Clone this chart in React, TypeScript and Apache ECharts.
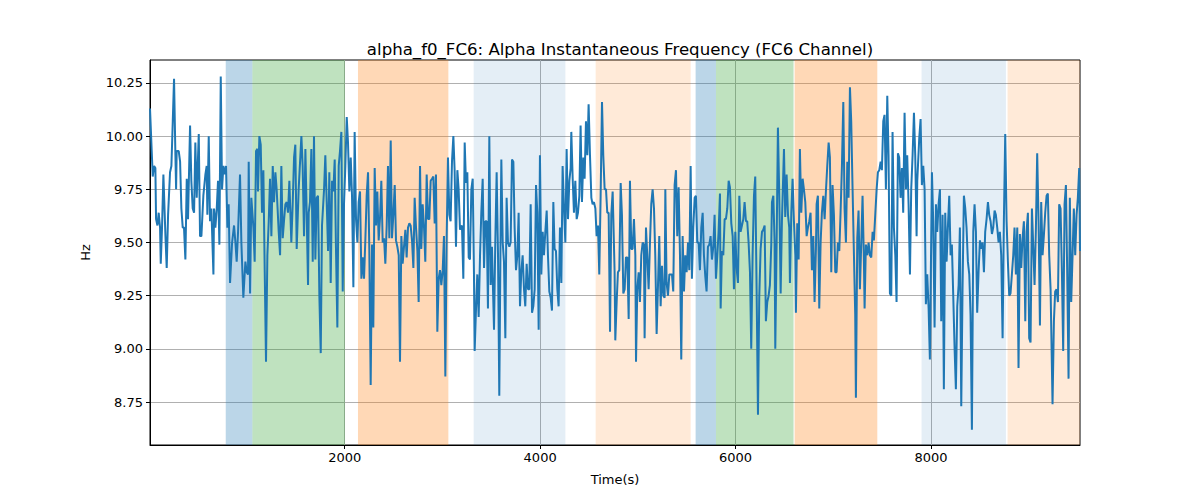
import { useEffect, useRef } from "react";
import * as echarts from "echarts";

// alpha instantaneous frequency, [time (s), Hz]
const alphaSeries: [number, number][] = [
    [8, 10.13], [36, 9.81], [50, 9.86], [63, 9.85], [70, 9.61], [84, 9.58], [97, 9.64], [111, 9.57],
    [118, 9.4], [131, 9.57], [145, 9.82], [166, 9.53], [179, 9.38], [193, 9.63], [213, 9.83], [227, 9.86],
    [241, 10.07], [254, 10.27], [268, 9.91], [275, 9.75], [281, 9.93], [302, 9.93], [316, 9.88], [329, 9.66],
    [343, 9.57], [356, 9.57], [370, 9.42], [384, 9.8], [397, 9.61], [418, 10.05], [431, 9.79], [445, 9.66],
    [459, 9.64], [472, 9.97], [486, 9.71], [507, 10.01], [520, 9.53], [534, 9.53], [554, 9.72], [575, 9.82],
    [588, 9.86], [595, 9.63], [609, 10.0], [622, 9.6], [636, 9.66], [657, 9.35], [663, 9.66], [677, 9.57],
    [691, 9.66], [704, 9.79], [718, 9.49], [732, 10.28], [745, 9.75], [759, 9.86], [772, 9.82], [786, 9.86],
    [800, 9.57], [813, 9.68], [827, 9.31], [848, 9.5], [868, 9.58], [882, 9.5], [895, 9.41], [909, 9.55],
    [929, 9.82], [943, 9.5], [963, 9.24], [984, 9.41], [998, 9.36], [1011, 9.35], [1018, 9.88], [1032, 9.26],
    [1045, 9.71], [1066, 9.57], [1079, 9.41], [1093, 9.93], [1107, 9.94], [1113, 9.74], [1127, 10.0], [1141, 9.96],
    [1154, 9.64], [1168, 9.84], [1182, 9.36], [1195, 8.94], [1209, 9.44], [1223, 9.6], [1236, 9.8], [1250, 9.53],
    [1264, 9.86], [1277, 9.69], [1291, 9.83], [1304, 9.75], [1325, 9.55], [1339, 9.44], [1352, 9.86], [1366, 9.52],
    [1379, 9.6], [1393, 9.68], [1407, 9.69], [1420, 9.64], [1434, 9.79], [1454, 9.5], [1468, 9.68], [1482, 9.9],
    [1495, 9.96], [1509, 9.47], [1529, 9.75], [1557, 10.0], [1570, 9.86], [1584, 9.53], [1598, 9.94], [1611, 9.64],
    [1625, 9.3], [1632, 9.64], [1645, 9.69], [1659, 9.94], [1673, 9.41], [1686, 10.0], [1700, 9.42], [1714, 9.71],
    [1727, 9.72], [1741, 9.25], [1755, 8.98], [1768, 9.58], [1789, 9.75], [1802, 9.91], [1816, 9.69], [1830, 9.46],
    [1843, 9.83], [1857, 9.31], [1871, 9.79], [1884, 9.74], [1898, 9.89], [1911, 9.47], [1925, 9.1], [1939, 9.86],
    [1952, 9.93], [1966, 10.02], [1980, 9.27], [1993, 9.68], [2007, 9.86], [2021, 10.09], [2034, 9.97], [2048, 9.74],
    [2062, 9.9], [2075, 9.72], [2089, 9.29], [2102, 10.02], [2116, 9.61], [2130, 9.5], [2143, 9.69], [2157, 9.74],
    [2171, 9.33], [2184, 9.43], [2198, 9.33], [2212, 9.52], [2225, 9.72], [2239, 9.83], [2252, 9.47], [2266, 8.83],
    [2280, 9.49], [2293, 9.1], [2307, 9.85], [2321, 9.58], [2334, 9.74], [2348, 9.51], [2362, 9.62], [2375, 9.79],
    [2389, 9.5], [2403, 9.52], [2416, 9.4], [2430, 9.58], [2443, 9.86], [2457, 9.52], [2471, 9.98], [2484, 9.52],
    [2498, 9.63], [2512, 9.77], [2525, 9.51], [2539, 9.48], [2553, 9.44], [2566, 8.94], [2580, 9.53], [2593, 9.4],
    [2607, 9.48], [2621, 9.56], [2634, 9.43], [2648, 9.57], [2662, 9.59], [2675, 9.58], [2689, 9.51], [2703, 9.38],
    [2716, 9.71], [2730, 9.57], [2744, 9.46], [2757, 9.22], [2771, 9.86], [2784, 9.47], [2798, 9.68], [2812, 9.57],
    [2825, 9.41], [2839, 9.82], [2853, 9.61], [2866, 9.61], [2880, 9.79], [2894, 9.8], [2907, 9.81], [2921, 9.59],
    [2934, 9.82], [2948, 9.08], [2962, 9.33], [2975, 9.37], [2989, 9.3], [3003, 9.37], [3016, 9.53], [3030, 8.87],
    [3044, 9.53], [3057, 9.9], [3071, 9.63], [3084, 9.6], [3098, 9.88], [3112, 10.0], [3125, 9.84], [3139, 9.48],
    [3153, 9.84], [3166, 9.75], [3180, 9.56], [3187, 9.57], [3200, 9.58], [3214, 9.33], [3228, 9.97], [3241, 9.78],
    [3255, 9.83], [3269, 9.43], [3282, 9.42], [3296, 9.75], [3310, 9.8], [3323, 9.35], [3330, 8.99], [3344, 9.19],
    [3357, 9.35], [3371, 9.15], [3385, 9.44], [3398, 9.64], [3412, 9.8], [3426, 9.38], [3439, 9.6], [3453, 9.6],
    [3466, 9.19], [3480, 10.0], [3494, 9.3], [3507, 9.48], [3528, 9.09], [3541, 9.5], [3555, 9.83], [3569, 9.44],
    [3582, 8.78], [3596, 9.58], [3603, 9.89], [3617, 9.5], [3630, 9.41], [3644, 9.05], [3657, 9.71], [3671, 9.5],
    [3685, 9.48], [3698, 9.5], [3712, 9.89], [3726, 9.88], [3739, 9.57], [3753, 9.37], [3767, 9.44], [3780, 9.64],
    [3794, 9.2], [3807, 9.36], [3821, 9.44], [3835, 9.28], [3848, 9.2], [3862, 9.4], [3876, 9.28], [3889, 9.28],
    [3903, 9.68], [3917, 9.17], [3930, 9.2], [3944, 9.28], [3958, 9.77], [3971, 9.64], [3985, 9.09], [3998, 9.91],
    [4012, 9.35], [4026, 9.55], [4039, 9.44], [4053, 9.55], [4067, 9.65], [4080, 9.44], [4094, 9.27], [4108, 9.24],
    [4121, 9.18], [4135, 9.69], [4148, 9.47], [4162, 9.46], [4176, 9.28], [4189, 9.2], [4203, 9.57], [4217, 9.31],
    [4230, 9.86], [4244, 9.66], [4258, 9.5], [4271, 9.94], [4285, 9.61], [4299, 9.79], [4312, 9.85], [4319, 10.02],
    [4333, 9.8], [4346, 9.64], [4360, 9.79], [4374, 9.61], [4387, 9.64], [4401, 9.72], [4414, 10.05], [4428, 9.69],
    [4442, 9.9], [4455, 9.8], [4469, 10.07], [4483, 9.91], [4496, 10.15], [4510, 9.91], [4524, 9.71], [4537, 9.68],
    [4551, 9.69], [4565, 9.66], [4578, 9.53], [4592, 9.58], [4605, 9.35], [4619, 9.72], [4633, 10.16], [4646, 9.91],
    [4660, 9.75], [4674, 9.75], [4687, 9.64], [4701, 9.64], [4715, 9.08], [4728, 9.63], [4742, 9.74], [4749, 9.61],
    [4762, 9.36], [4769, 9.04], [4783, 9.22], [4796, 9.36], [4810, 9.37], [4824, 9.78], [4837, 9.63], [4851, 9.26],
    [4865, 9.28], [4878, 9.43], [4892, 9.43], [4906, 9.14], [4919, 9.79], [4933, 9.47], [4946, 9.47], [4960, 9.61],
    [4974, 9.44], [4981, 8.94], [4994, 9.28], [5008, 9.36], [5021, 9.22], [5035, 9.44], [5049, 9.5], [5062, 9.49],
    [5069, 9.05], [5083, 9.57], [5096, 9.44], [5110, 9.28], [5124, 9.5], [5137, 9.68], [5151, 9.75], [5165, 9.66],
    [5178, 9.44], [5192, 9.07], [5206, 9.3], [5219, 9.53], [5233, 9.2], [5247, 9.39], [5260, 9.25], [5274, 9.24],
    [5281, 9.75], [5294, 9.31], [5308, 9.25], [5322, 9.35], [5335, 9.35], [5349, 9.35], [5362, 9.27], [5376, 9.77],
    [5390, 9.84], [5403, 9.53], [5417, 9.76], [5431, 9.44], [5444, 8.95], [5458, 9.53], [5472, 9.27], [5485, 9.44],
    [5499, 9.36], [5513, 9.5], [5526, 9.37], [5540, 9.86], [5553, 9.33], [5567, 9.57], [5581, 9.71], [5594, 9.72],
    [5608, 9.5], [5622, 9.5], [5635, 9.37], [5649, 9.57], [5663, 9.64], [5676, 9.44], [5690, 9.34], [5703, 9.27],
    [5717, 9.48], [5731, 9.49], [5744, 9.53], [5758, 9.42], [5772, 9.48], [5785, 9.63], [5799, 9.33], [5813, 9.44],
    [5826, 9.55], [5840, 9.73], [5847, 9.19], [5860, 9.46], [5874, 9.44], [5888, 9.61], [5901, 9.61], [5915, 9.66],
    [5929, 9.79], [5942, 9.76], [5956, 9.59], [5970, 9.53], [5983, 9.28], [5997, 9.55], [6010, 9.38], [6024, 9.31],
    [6038, 9.72], [6051, 9.55], [6065, 9.58], [6079, 9.61], [6092, 9.69], [6106, 9.6], [6119, 9.6], [6133, 9.5],
    [6147, 9.36], [6160, 9.0], [6174, 9.44], [6188, 9.72], [6201, 9.81], [6215, 9.28], [6229, 8.69], [6242, 9.24],
    [6256, 9.47], [6270, 9.55], [6283, 9.56], [6297, 9.58], [6310, 9.13], [6324, 9.22], [6338, 9.25], [6351, 9.3],
    [6365, 9.49], [6372, 9.69], [6386, 9.72], [6399, 9.5], [6406, 9.0], [6420, 9.5], [6433, 10.04], [6447, 9.72],
    [6461, 9.26], [6474, 9.6], [6495, 9.94], [6508, 9.62], [6522, 9.82], [6536, 9.63], [6549, 9.57], [6556, 9.31],
    [6570, 9.64], [6583, 9.8], [6597, 9.6], [6611, 9.44], [6617, 9.17], [6631, 9.59], [6645, 9.42], [6658, 9.94],
    [6672, 9.64], [6686, 9.8], [6699, 9.75], [6713, 9.69], [6727, 9.53], [6740, 9.57], [6754, 9.6], [6767, 9.64],
    [6781, 9.37], [6795, 9.53], [6808, 9.22], [6822, 9.47], [6829, 9.68], [6842, 9.72], [6856, 9.19], [6870, 9.5],
    [6883, 9.64], [6897, 9.72], [6911, 9.61], [6924, 9.74], [6938, 9.86], [6952, 9.97], [6965, 9.9], [6979, 9.36],
    [6992, 9.77], [7006, 9.63], [7020, 9.36], [7033, 9.36], [7047, 9.5], [7061, 9.46], [7074, 9.64], [7088, 9.86],
    [7102, 10.16], [7115, 9.66], [7129, 9.5], [7143, 9.88], [7156, 9.71], [7170, 10.23], [7183, 10.07], [7197, 9.75],
    [7211, 9.44], [7224, 9.16], [7231, 8.77], [7245, 9.52], [7258, 9.65], [7272, 9.28], [7286, 9.5], [7299, 9.72],
    [7313, 9.41], [7320, 9.19], [7333, 9.49], [7347, 9.44], [7361, 9.5], [7374, 9.44], [7388, 9.43], [7402, 9.55],
    [7415, 9.51], [7429, 9.63], [7443, 9.75], [7456, 9.83], [7470, 9.84], [7484, 9.88], [7497, 9.84], [7511, 10.07],
    [7524, 10.1], [7538, 9.75], [7552, 10.19], [7565, 9.91], [7579, 9.26], [7593, 9.25], [7606, 10.02], [7620, 9.57],
    [7634, 9.44], [7647, 9.22], [7661, 9.92], [7674, 9.9], [7688, 9.71], [7702, 9.85], [7715, 9.64], [7729, 10.11],
    [7743, 9.75], [7756, 9.91], [7770, 9.68], [7784, 9.35], [7797, 9.75], [7811, 9.91], [7825, 10.11], [7838, 9.91],
    [7852, 9.53], [7859, 9.79], [7879, 9.99], [7893, 10.08], [7906, 9.77], [7920, 9.86], [7934, 9.75], [7947, 9.21],
    [7961, 9.35], [7975, 9.19], [7988, 8.95], [8009, 9.83], [8022, 9.6], [8036, 9.1], [8050, 9.68], [8063, 9.55],
    [8077, 9.68], [8091, 9.75], [8104, 9.13], [8118, 9.63], [8131, 8.81], [8145, 9.64], [8159, 9.41], [8172, 9.57],
    [8186, 9.72], [8200, 9.44], [8213, 9.49], [8227, 9.25], [8241, 9.0], [8254, 8.81], [8268, 9.2], [8282, 9.3],
    [8295, 9.57], [8309, 8.73], [8322, 9.28], [8336, 9.72], [8350, 9.66], [8363, 9.57], [8377, 9.41], [8391, 9.35],
    [8404, 9.16], [8418, 8.62], [8432, 9.55], [8445, 9.68], [8459, 9.55], [8472, 9.17], [8486, 9.36], [8500, 9.51],
    [8513, 9.47], [8527, 9.5], [8541, 9.36], [8554, 9.55], [8568, 9.61], [8582, 9.69], [8595, 9.63], [8609, 9.6],
    [8623, 9.54], [8636, 9.57], [8650, 9.65], [8663, 9.63], [8677, 9.57], [8691, 9.5], [8704, 9.55], [8718, 9.44],
    [8732, 9.05], [8745, 9.6], [8759, 10.01], [8773, 9.6], [8786, 9.41], [8800, 9.25], [8813, 9.26], [8827, 9.35],
    [8841, 9.44], [8854, 9.57], [8868, 9.35], [8882, 9.57], [8895, 8.91], [8909, 9.54], [8923, 9.38], [8936, 9.52],
    [8950, 9.6], [8964, 9.13], [8977, 9.55], [8991, 9.64], [9004, 9.05], [9018, 9.03], [9032, 9.66], [9045, 9.49],
    [9059, 9.3], [9073, 9.57], [9086, 9.92], [9100, 9.6], [9114, 9.11], [9127, 9.69], [9141, 9.44], [9154, 9.53],
    [9168, 9.64], [9182, 9.72], [9195, 9.73], [9209, 9.44], [9223, 9.28], [9243, 8.74], [9257, 9.13], [9270, 9.27],
    [9284, 9.28], [9298, 9.22], [9311, 9.68], [9325, 9.66], [9339, 9.36], [9352, 8.99], [9366, 9.68], [9380, 9.77],
    [9393, 9.36], [9407, 8.86], [9420, 9.71], [9434, 9.22], [9448, 9.44], [9461, 9.66], [9475, 9.44], [9489, 9.63],
    [9502, 9.71], [9516, 9.85], [9524, 9.46],
];

// shaded segments: [start, end, kind]
const segments: [number, number, string][] = [
    [783, 1056, "blue"],
    [1056, 2003, "green"],
    [2136, 3061, "orange"],
    [3320, 4258, "paleBlue"],
    [4568, 5540, "paleOrange"],
    [5591, 5799, "blue"],
    [5799, 6593, "green"],
    [6604, 7450, "orange"],
    [7903, 8766, "paleBlue"],
    [8783, 9524, "paleOrange"],
];

const xTicks = [2000, 4000, 6000, 8000];
const yTicks = [8.75, 9.0, 9.25, 9.5, 9.75, 10.0, 10.25];

const segmentColors: Record<string, string> = {
    blue: "rgba(31, 119, 180, 0.3)",
    green: "rgba(44, 160, 44, 0.3)",
    orange: "rgba(255, 127, 14, 0.3)",
    paleBlue: "rgba(31, 119, 180, 0.12)",
    paleOrange: "rgba(255, 127, 14, 0.16)",
};

const font = "DejaVu Sans";

const App = () => {
    const chartRef = useRef<HTMLDivElement>(null);

    useEffect(() => {
        if (!chartRef.current) return;
        const chart = echarts.init(chartRef.current, undefined, { renderer: "svg" });

        chart.setOption({
            animation: false,
            title: {
                text: "alpha_f0_FC6: Alpha Instantaneous Frequency (FC6 Channel)",
                left: 615,
                top: 36,
                textAlign: "center",
                textStyle: { fontFamily: font, fontSize: 16.6, fontWeight: "normal", color: "#000" },
            },
            grid: {
                left: 150,
                right: 120,
                top: 60,
                bottom: 55,
                show: true,
                borderColor: "#000",
                borderWidth: 1,
                backgroundColor: "transparent",
            },
            xAxis: {
                type: "value",
                min: 8,
                max: 9524,
                name: "Time(s)",
                nameLocation: "middle",
                nameGap: 28,
                nameTextStyle: { fontFamily: font, fontSize: 13, color: "#000" },
                axisLine: { show: true, lineStyle: { color: "#000" } },
                axisTick: { show: true, length: 4, customValues: xTicks, lineStyle: { color: "#000" } },
                axisLabel: {
                    customValues: xTicks,
                    fontFamily: font,
                    fontSize: 13,
                    color: "#000",
                    margin: 6,
                    formatter: (v: number) => String(v),
                },
                splitLine: { show: true, lineStyle: { color: "#b0b0b0", width: 1 } },
            },
            yAxis: {
                type: "value",
                min: 8.548,
                max: 10.358,
                name: "Hz",
                nameLocation: "middle",
                nameGap: 58,
                nameTextStyle: { fontFamily: font, fontSize: 13, color: "#000" },
                axisLine: { show: true, lineStyle: { color: "#000" } },
                axisTick: { show: true, length: 4, customValues: yTicks, lineStyle: { color: "#000" } },
                axisLabel: {
                    customValues: yTicks,
                    fontFamily: font,
                    fontSize: 13,
                    color: "#000",
                    margin: 7,
                    formatter: (v: number) => v.toFixed(2),
                },
                splitLine: { show: true, lineStyle: { color: "#b0b0b0", width: 1 } },
            },
            series: [
                {
                    type: "line",
                    data: alphaSeries,
                    showSymbol: false,
                    symbol: "none",
                    lineStyle: { color: "#1f77b4", width: 2 },
                    z: 3,
                    markArea: {
                        silent: true,
                        z: 1,
                        data: segments.map(([a, b, kind]) => [
                            { xAxis: a, itemStyle: { color: segmentColors[kind] } },
                            { xAxis: b },
                        ]),
                    },
                },
            ],
        });

        const handleResize = () => chart.resize();
        window.addEventListener("resize", handleResize);

        return () => {
            chart.dispose();
            window.removeEventListener("resize", handleResize);
        };
    }, []);

    return (
        <div
            ref={chartRef}
            style={{
                width: "1200px",
                height: "500px",
                margin: "-8px",
            }}
        />
    );
};

export default App;
